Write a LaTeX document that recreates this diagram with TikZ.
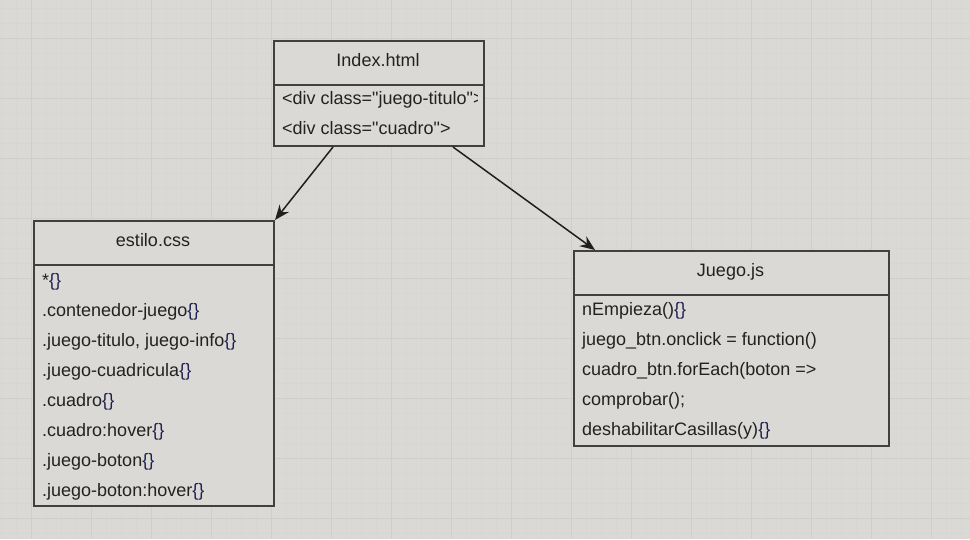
\documentclass[tikz,border=0pt]{standalone}
\usepackage{fontspec}
\setmainfont{Liberation Sans}
\usepackage{xcolor}
\definecolor{paper}{RGB}{218,217,213}
\definecolor{gridmajor}{RGB}{206,206,203}
\definecolor{gridminor}{RGB}{215,214,210}
\definecolor{boxline}{RGB}{64,64,64}
\definecolor{ink}{RGB}{34,34,34}
\definecolor{brace}{RGB}{30,32,82}
\usetikzlibrary{arrows.meta}
\newcommand{\br}{{\color{brace}\{\}}}
\newcommand{\qq}{\textquotedbl}

\begin{document}
\begin{tikzpicture}[x=1pt, y=-1pt,
  font=\fontsize{18}{22}\selectfont, text=ink,
  umlbox/.style={draw=boxline, line width=2pt, fill=paper, anchor=north west, inner sep=0pt},
  divider/.style={draw=boxline, line width=1.6pt},
  row/.style={anchor=base west, inner sep=0pt},
  title/.style={anchor=base, inner sep=0pt},
  conn/.style={draw=ink!90!black, line width=1.5pt, -{Stealth[length=15pt, width=12pt, inset=5pt]}}]
\useasboundingbox (0, 0) rectangle (970, 539);
\fill[paper] (0, 0) rectangle (970, 539);

% grid
\foreach \x in {1.5, 16.5, ..., 970} \draw[gridminor, line width=0.5pt] (\x, 0) -- (\x, 539);
\foreach \y in {8.5, 23.5, ..., 539} \draw[gridminor, line width=0.5pt] (0, \y) -- (970, \y);
\foreach \x in {31.5, 91.5, ..., 970} \draw[gridmajor, line width=1pt] (\x, 0) -- (\x, 539);
\foreach \y in {38.5, 98.5, ..., 539} \draw[gridmajor, line width=1pt] (0, \y) -- (970, \y);

% Index.html
\node[umlbox, minimum width=210pt, minimum height=105pt] (index) at (273, 40) {};
\draw[divider] ([yshift=-45pt]index.north west) -- ([yshift=-45pt]index.north east);
\node[title] (index-title) at (378, 66) {Index.html};
\begin{scope}
\clip (274, 86) rectangle (477, 144);
\node[row] (index-r1) at (282, 104) {<div class=\qq juego-titulo\qq>};
\end{scope}
\node[row] (index-r2) at (282, 134) {<div class=\qq cuadro\qq>};

% estilo.css
\node[umlbox, minimum width=240pt, minimum height=285pt] (estilo) at (33, 220) {};
\draw[divider] ([yshift=-45pt]estilo.north west) -- ([yshift=-45pt]estilo.north east);
\node[title] (estilo-title) at (153, 246) {estilo.css};
\foreach \txt [count=\i] in {*\br, .contenedor-juego\br, {.juego-titulo, juego-info\br},
    .juego-cuadricula\br, .cuadro\br, .cuadro:hover\br, .juego-boton\br, .juego-boton:hover\br}
  \node[row] (estilo-r\i) at (42, 256 + 30*\i) {\txt};

% Juego.js
\node[umlbox, minimum width=315pt, minimum height=195pt] (juego) at (573, 250) {};
\draw[divider] ([yshift=-45pt]juego.north west) -- ([yshift=-45pt]juego.north east);
\node[title] (juego-title) at (730.5, 276) {Juego.js};
\foreach \txt [count=\i] in {nEmpieza()\br, juego\_btn.onclick = function(),
    cuadro\_btn.forEach(boton =>, comprobar();, deshabilitarCasillas(y)\br}
  \node[row] (juego-r\i) at (582, 285 + 30*\i) {\txt};

% connectors
\draw[conn] ([xshift=60pt]index.south west) -- (estilo.north east);
\draw[conn] ([xshift=-32pt]index.south east) -- ([xshift=22pt]juego.north west);
\end{tikzpicture}
\end{document}
